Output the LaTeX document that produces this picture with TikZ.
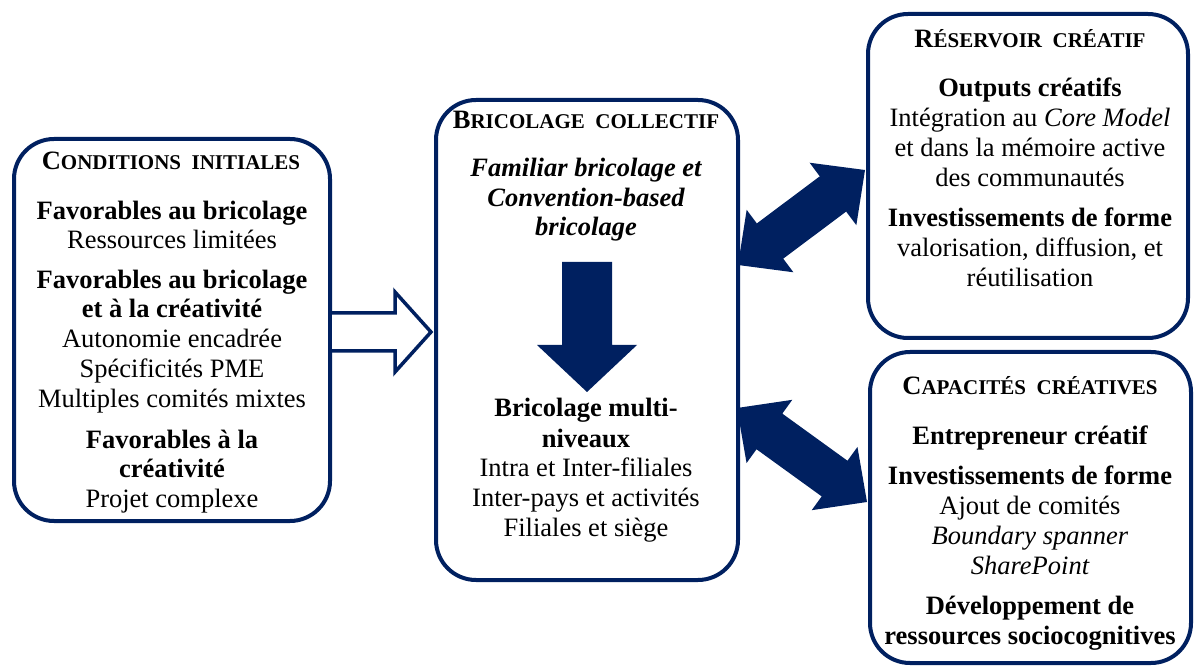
\documentclass[tikz,border=0pt]{standalone}
\usepackage{fontspec}
\setmainfont{Liberation Serif}
\usetikzlibrary{calc}
\definecolor{navy}{RGB}{0,32,96}
\newcommand\bodyfont{\fontsize{26.5}{30}\selectfont}
\newcommand\hdsc[2]{{\fontsize{26.5}{30}\selectfont\bfseries #1}{\fontsize{21}{24}\selectfont\bfseries #2}}
\begin{document}
\begin{tikzpicture}[x=1pt,y=-1pt,
  box/.style={draw=navy, line width=4pt, rounded corners=40pt, fill=white, inner sep=0pt},
  txt/.style={anchor=base, inner sep=0pt, font=\bodyfont},
  hd/.style={anchor=base, inner sep=0pt}]
\useasboundingbox (0,0) rectangle (1195,668);
% boxes
\node[box, minimum width=316pt, minimum height=382pt] (cond) at (172,330) {};
\node[box, minimum width=302pt, minimum height=480pt] (bric) at (587,340) {};
\node[box, minimum width=320pt, minimum height=324pt] (res) at (1028,176) {};
\node[box, minimum width=321pt, minimum height=311pt] (cap) at (1030.5,507.5) {};
% left box text
\node[hd] (h1) at (171,170) {\hdsc{C}{ONDITIONS\ \ INITIALES}};
\node[txt] (l1) at (172,220) {\bfseries Favorables au bricolage};
\node[txt] (l2) at (172,249) {Ressources limitées};
\node[txt] (l3) at (172,289) {\bfseries Favorables au bricolage};
\node[txt] (l4) at (172,318) {\bfseries et à la créativité};
\node[txt] (l5) at (172,348) {Autonomie encadrée};
\node[txt] (l6) at (172,378) {Spécificités PME};
\node[txt] (l7) at (172,407) {Multiples comités mixtes};
\node[txt] (l8) at (172,448) {\bfseries Favorables à la};
\node[txt] (l9) at (172,477) {\bfseries créativité};
\node[txt] (l10) at (172,507) {Projet complexe};
% middle box text
\node[hd] (h2) at (586,129) {\hdsc{B}{RICOLAGE\ \ COLLECTIF}};
\node[txt] (m1) at (586,177) {\bfseries\itshape Familiar bricolage et};
\node[txt] (m2) at (586,207) {\bfseries\itshape Convention-based};
\node[txt] (m3) at (586,236) {\bfseries\itshape bricolage};
\node[txt] (m4) at (586,417) {\bfseries Bricolage multi-};
\node[txt] (m5) at (586,447) {\bfseries niveaux};
\node[txt] (m6) at (586,476) {Intra et Inter-filiales};
\node[txt] (m7) at (586,506) {Inter-pays et activités};
\node[txt] (m8) at (586,536) {Filiales et siège};
% top right text
\node[hd] (h3) at (1030,48) {\hdsc{R}{ÉSERVOIR\ \ CRÉATIF}};
\node[txt] (r1) at (1030,97) {\bfseries Outputs créatifs};
\node[txt] (r2) at (1030,127) {Intégration au \textit{Core Model}};
\node[txt] (r3) at (1030,157) {et dans la mémoire active};
\node[txt] (r4) at (1030,187) {des communautés};
\node[txt] (r5) at (1030,227) {\bfseries Investissements de forme};
\node[txt] (r6) at (1030,257) {valorisation, diffusion, et};
\node[txt] (r7) at (1030,287) {réutilisation};
% bottom right text
\node[hd] (h4) at (1030,395) {\hdsc{C}{APACITÉS\ \ CRÉATIVES}};
\node[txt] (c1) at (1030,444) {\bfseries Entrepreneur créatif};
\node[txt] (c2) at (1030,484) {\bfseries Investissements de forme};
\node[txt] (c3) at (1030,514) {Ajout de comités};
\node[txt] (c4) at (1030,544) {\itshape Boundary spanner};
\node[txt] (c5) at (1030,574) {\itshape SharePoint};
\node[txt] (c6) at (1030,614) {\bfseries Développement de};
\node[txt] (c7) at (1030,644) {\bfseries ressources sociocognitives};
% hollow arrow
\draw[navy, line width=3.5pt, fill=white, line join=miter]
  (332,313) -- (395,313) -- (395,292) -- (431,332) -- (395,372) -- (395,351) -- (332,351);
% down arrow
\fill[navy] (562,262) -- (612,262) -- (612,345) -- (637,345) -- (587,392) -- (537,345) -- (562,345) -- cycle;
% double arrows
\coordinate (a1) at (738,265);
\coordinate (a2) at (865,170);
\coordinate (b1) at (737,408);
\coordinate (b2) at (867,502);
\foreach \p/\q in {a1/a2, b1/b2}{
  \coordinate (ha) at ($(\p)!40pt!(\q)$);
  \coordinate (hb) at ($(\q)!40pt!(\p)$);
  \fill[navy] (\p) -- ($(ha)!39pt!90:(\q)$) -- ($(ha)!22pt!90:(\q)$)
    -- ($(hb)!22pt!-90:(\p)$) -- ($(hb)!39pt!-90:(\p)$) -- (\q)
    -- ($(hb)!39pt!90:(\p)$) -- ($(hb)!22pt!90:(\p)$)
    -- ($(ha)!22pt!-90:(\q)$) -- ($(ha)!39pt!-90:(\q)$) -- cycle;
}
\end{tikzpicture}
\end{document}
